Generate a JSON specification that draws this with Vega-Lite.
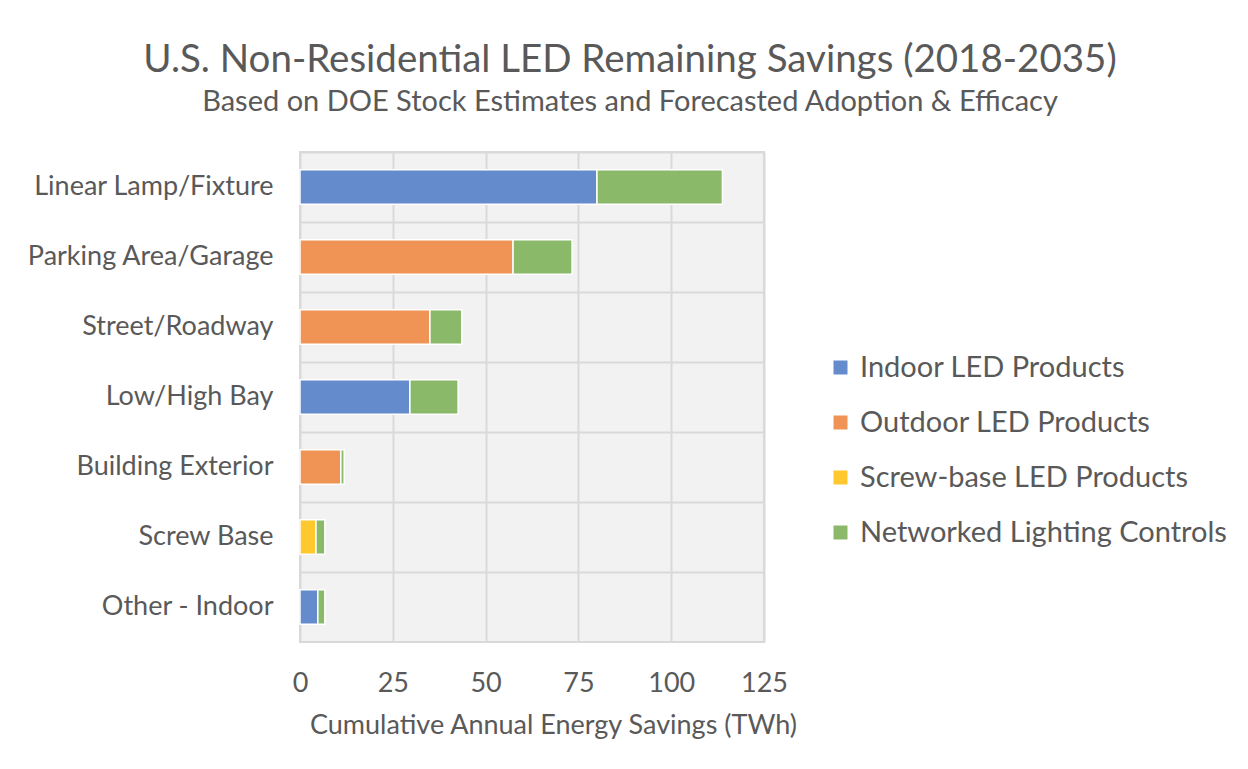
{
  "$schema": "https://vega.github.io/schema/vega-lite/v6.json",
  "width": 464,
  "height": 490,
  "autosize": {"type": "none"},
  "padding": {"left": 300, "top": 152, "right": 484, "bottom": 127},
  "background": "white",
  "title": {
    "text": "U.S. Non-Residential  LED Remaining Savings (2018-2035)",
    "subtitle": "Based on DOE Stock Estimates and Forecasted Adoption & Efficacy",
    "anchor": "middle",
    "dx": 98,
    "offset": 34,
    "font": "Lato",
    "fontSize": 38.5,
    "fontWeight": "normal",
    "color": "#595959",
    "subtitleFont": "Lato",
    "subtitleFontSize": 29,
    "subtitleColor": "#595959",
    "subtitlePadding": 8
  },
  "config": {
    "view": {"fill": "#F2F2F2", "stroke": "#D9D9D9", "strokeWidth": 2},
    "font": "Lato"
  },
  "data": {
    "values": [
      {"cat": "Linear Lamp/Fixture", "series": "Indoor LED Products", "v": 80, "o": 1},
      {"cat": "Linear Lamp/Fixture", "series": "Networked Lighting Controls", "v": 33.8, "o": 4},
      {"cat": "Parking Area/Garage", "series": "Outdoor LED Products", "v": 57.4, "o": 2},
      {"cat": "Parking Area/Garage", "series": "Networked Lighting Controls", "v": 15.9, "o": 4},
      {"cat": "Street/Roadway", "series": "Outdoor LED Products", "v": 35, "o": 2},
      {"cat": "Street/Roadway", "series": "Networked Lighting Controls", "v": 8.6, "o": 4},
      {"cat": "Low/High Bay", "series": "Indoor LED Products", "v": 29.6, "o": 1},
      {"cat": "Low/High Bay", "series": "Networked Lighting Controls", "v": 13, "o": 4},
      {"cat": "Building Exterior", "series": "Outdoor LED Products", "v": 11, "o": 2},
      {"cat": "Building Exterior", "series": "Networked Lighting Controls", "v": 0.9, "o": 4},
      {"cat": "Screw Base", "series": "Screw-base LED Products", "v": 4.3, "o": 3},
      {"cat": "Screw Base", "series": "Networked Lighting Controls", "v": 2.4, "o": 4},
      {"cat": "Other - Indoor", "series": "Indoor LED Products", "v": 4.8, "o": 1},
      {"cat": "Other - Indoor", "series": "Networked Lighting Controls", "v": 1.9, "o": 4}
    ]
  },
  "mark": {"type": "bar", "height": {"band": 0.49}, "stroke": "white", "strokeWidth": 1.5},
  "encoding": {
    "y": {
      "field": "cat",
      "type": "nominal",
      "sort": null,
      "scale": {"padding": 0},
      "axis": {
        "title": null,
        "domain": false,
        "ticks": false,
        "grid": true,
        "bandPosition": 0,
        "gridColor": "#D9D9D9",
        "gridWidth": 2,
        "labelFont": "Lato",
        "labelFontSize": 27,
        "labelColor": "#595959",
        "labelPadding": 27,
        "labelLimit": 400,
        "labelBandPosition": 0.5
      }
    },
    "x": {
      "field": "v",
      "type": "quantitative",
      "stack": "zero",
      "scale": {"domain": [0, 125], "nice": false},
      "axis": {
        "title": "Cumulative Annual Energy Savings (TWh)",
        "values": [0, 25, 50, 75, 100, 125],
        "domain": false,
        "ticks": false,
        "grid": true,
        "gridColor": "#D9D9D9",
        "gridWidth": 2,
        "labelFont": "Lato",
        "labelFontSize": 27,
        "labelColor": "#595959",
        "labelPadding": 28,
        "labelFlush": false,
        "labelOverlap": false,
        "titleFont": "Lato",
        "titleFontSize": 27,
        "titleFontWeight": "normal",
        "titleColor": "#595959",
        "titlePadding": 16,
        "titleX": 253
      }
    },
    "color": {
      "field": "series",
      "type": "nominal",
      "scale": {
        "domain": ["Indoor LED Products", "Outdoor LED Products", "Screw-base LED Products", "Networked Lighting Controls"],
        "range": ["#648BCC", "#EF9455", "#FEC82E", "#8AB96A"]
      },
      "legend": {
        "title": null,
        "orient": "none",
        "legendX": 526,
        "legendY": 201,
        "symbolType": "square",
        "symbolSize": 196,
        "symbolStrokeWidth": 0,
        "labelFont": "Lato",
        "labelFontSize": 29,
        "labelColor": "#595959",
        "labelOffset": 5,
        "rowPadding": 25,
        "labelLimit": 500
      }
    },
    "order": {"field": "o", "type": "quantitative"}
  }
}
